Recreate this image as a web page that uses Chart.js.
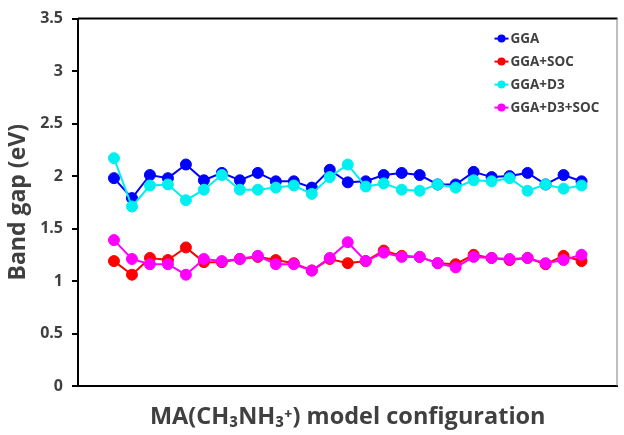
<!DOCTYPE html>
<html lang="en">
<head>
  <meta charset="UTF-8">
  <title>Band gap vs MA model configuration</title>
  <script src="https://cdn.jsdelivr.net/npm/chart.js"></script>
  <style>
    body {
      margin: 0;
      padding: 0;
      background: white;
    }
    .chart-container {
      width: 624px;
      height: 435px;
      position: relative;
    }
  </style>
</head>
<body>
  <div class="chart-container">
    <canvas id="chart"></canvas>
  </div>

  <script>
    // configuration index (x axis has no tick labels)
    const configs = [1, 2, 3, 4, 5, 6, 7, 8, 9, 10, 11, 12, 13, 14, 15, 16, 17, 18, 19, 20, 21, 22, 23, 24, 25, 26, 27];

    const gga = [1.98, 1.79, 2.01, 1.98, 2.11, 1.96, 2.03, 1.96, 2.03, 1.95, 1.95, 1.89, 2.06, 1.94,
                 1.95, 2.01, 2.03, 2.01, 1.92, 1.92, 2.04, 1.99, 2.00, 2.03, 1.92, 2.01, 1.95];
    const ggaSoc = [1.19, 1.06, 1.22, 1.20, 1.32, 1.18, 1.18, 1.21, 1.23, 1.20, 1.17, 1.10, 1.21, 1.17,
                    1.19, 1.29, 1.24, 1.23, 1.17, 1.16, 1.25, 1.22, 1.20, 1.22, 1.16, 1.24, 1.19];
    const ggaD3 = [2.17, 1.71, 1.91, 1.92, 1.77, 1.87, 2.01, 1.87, 1.87, 1.89, 1.91, 1.83, 1.99, 2.11,
                   1.90, 1.93, 1.87, 1.86, 1.92, 1.89, 1.96, 1.95, 1.98, 1.86, 1.92, 1.88, 1.91];
    const ggaD3Soc = [1.39, 1.21, 1.16, 1.16, 1.06, 1.21, 1.19, 1.21, 1.24, 1.16, 1.16, 1.10, 1.22, 1.37,
                      1.19, 1.27, 1.23, 1.23, 1.17, 1.13, 1.23, 1.22, 1.21, 1.22, 1.17, 1.20, 1.25];

    const seriesNames = ['GGA', 'GGA+SOC', 'GGA+D3', 'GGA+D3+SOC'];
    const seriesColors = ['#0000ff', '#ff0000', '#00f0f0', '#ff00ff'];
    const seriesValues = [gga, ggaSoc, ggaD3, ggaD3Soc];

    const textColor = '#404040';
    const fontFamily = '"Open Sans", "Noto Sans", sans-serif';

    const datasets = seriesNames.map((name, i) => ({
      label: name,
      data: configs.map((c, j) => ({ x: c, y: seriesValues[i][j] })),
      borderColor: seriesColors[i],
      backgroundColor: seriesColors[i],
      borderWidth: 2,
      pointRadius: 5.5,
      pointBorderWidth: 1,
      pointHoverRadius: 5.5,
      // later series sit on top
      order: seriesNames.length - 1 - i
    }));

    // top + right frame of the plot area
    const framePlugin = {
      id: 'frame',
      beforeDatasetsDraw(chart) {
        const { ctx, chartArea: a } = chart;
        ctx.save();
        ctx.strokeStyle = '#000';
        ctx.lineWidth = 2;
        ctx.beginPath();
        ctx.moveTo(a.left, a.top);
        ctx.lineTo(a.right, a.top);
        ctx.stroke();
        ctx.strokeStyle = '#808080';
        ctx.lineWidth = 1;
        ctx.beginPath();
        ctx.moveTo(a.right - 0.5, a.top);
        ctx.lineTo(a.right - 0.5, a.bottom);
        ctx.stroke();
        ctx.restore();
      }
    };

    // vertical legend inside the plot, top right
    const legendPlugin = {
      id: 'insideLegend',
      afterDraw(chart) {
        const { ctx, chartArea: a } = chart;
        ctx.save();
        ctx.font = 'bold 13.5px ' + fontFamily;
        ctx.textBaseline = 'middle';
        ctx.textAlign = 'left';
        chart.data.datasets.forEach((ds, i) => {
          const x0 = a.right - 123;
          const y = a.top + 20 + i * 23;
          ctx.strokeStyle = ds.borderColor;
          ctx.lineWidth = 2;
          ctx.beginPath();
          ctx.moveTo(x0, y);
          ctx.lineTo(x0 + 14, y);
          ctx.stroke();
          ctx.fillStyle = ds.backgroundColor;
          ctx.beginPath();
          ctx.arc(x0 + 7, y, 4, 0, Math.PI * 2);
          ctx.fill();
          ctx.fillStyle = textColor;
          ctx.fillText(ds.label, x0 + 16, y + 1);
        });
        ctx.restore();
      }
    };

    new Chart(document.getElementById('chart'), {
      type: 'line',
      data: { datasets },
      plugins: [framePlugin, legendPlugin],
      options: {
        responsive: true,
        maintainAspectRatio: false,
        animation: false,
        layout: {
          padding: { top: 15, right: 1, left: 0, bottom: 0 }
        },
        scales: {
          x: {
            type: 'linear',
            min: -1,
            max: 29,
            grid: { display: false },
            border: { display: true, color: '#000', width: 2 },
            ticks: { display: false },
            title: {
              display: true,
              text: 'MA(CH\u2083NH\u2083\u207A) model configuration',
              color: textColor,
              font: { family: fontFamily, size: 23.5, weight: 'bold' },
              padding: { top: 0, bottom: 4 }
            },
            afterFit(scale) { scale.height = 49; }
          },
          y: {
            min: 0,
            max: 3.5,
            grid: {
              drawOnChartArea: false,
              drawTicks: true,
              tickLength: 6,
              color: '#000',
              lineWidth: 2
            },
            border: { display: true, color: '#000', width: 2 },
            ticks: {
              stepSize: 0.5,
              padding: 9,
              color: textColor,
              font: { family: fontFamily, size: 16, weight: 'bold' },
              callback: v => String(v)
            },
            title: {
              display: true,
              text: 'Band gap (eV)',
              color: textColor,
              font: { family: fontFamily, size: 23, weight: 'bold' },
              padding: { top: 5, bottom: 0 }
            },
            afterFit(scale) { scale.width = 78; }
          }
        },
        plugins: {
          legend: { display: false },
          tooltip: { enabled: false }
        }
      }
    });
  </script>
</body>
</html>
